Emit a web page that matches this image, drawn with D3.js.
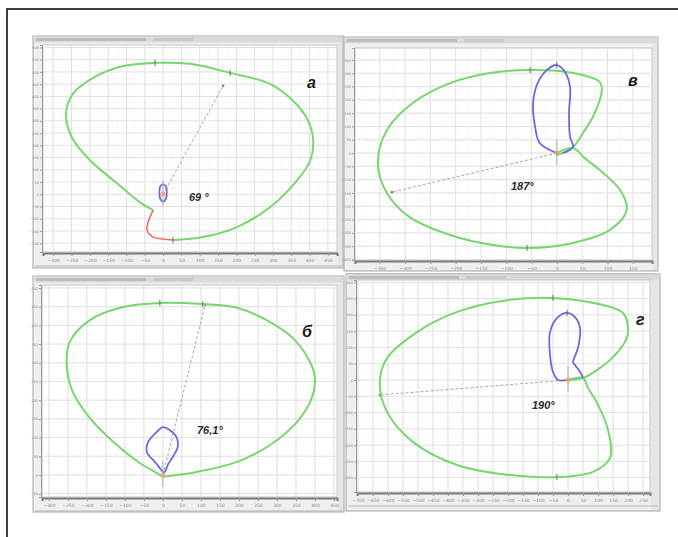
<!DOCTYPE html>
<html>
<head>
<meta charset="utf-8">
<script src="https://cdn.jsdelivr.net/npm/d3@7"></script>
<style>
body { margin: 0; background: #fff; }
svg { display: block; }
.tick text { fill: #8c8c8c; font-family: "DejaVu Sans", sans-serif; }
</style>
</head>
<body>
<svg id="chart"></svg>
<script>
// годографы, мм (шаг сетки 50)
var greenA = [[27,-187],[109,-175],[202,-134],[292,-53],[366,57],[402,138],[410,220],[396,301],[355,382],[292,451],[183,496],[74,533],[-22,537],[-109,524],[-191,476],[-246,411],[-265,329],[-249,232],[-199,138],[-126,45],[-63,-33],[-27,-65]]
var redA = [[-27,-65],[-41,-114],[-44,-146],[-27,-175],[0,-183],[27,-187]]
var blueA = [[0,42],[8,32],[10,8],[8,-18],[0,-30],[-8,-18],[-10,8],[-8,32],[0,42]]
var vecA = [164, 443]

var greenV = [[0,-8],[32,23],[55,86],[71,135],[89,237],[85,267],[71,282],[20,305],[-53,312],[-132,301],[-211,263],[-285,188],[-336,86],[-354,-38],[-336,-150],[-291,-241],[-211,-308],[-126,-346],[-59,-357],[32,-338],[105,-289],[138,-214],[125,-139],[85,-64],[55,-19],[32,19],[0,0]]
var blueV = [[0,0],[-34,38],[-43,98],[-47,188],[-38,263],[-20,312],[0,331],[16,305],[26,248],[24,150],[26,60],[32,23],[12,0]]
var vecV = [-326, -147]

var greenB = [[0,-5],[89,8],[195,35],[282,80],[353,142],[392,206],[400,259],[387,302],[342,366],[282,409],[195,447],[105,457],[-8,460],[-105,449],[-192,414],[-245,356],[-253,294],[-237,222],[-192,152],[-121,80],[-61,32],[-16,5],[0,-5]]
var blueB = [[0,8],[-21,35],[-42,61],[-39,88],[-16,115],[0,128],[18,120],[37,99],[39,75],[26,48],[13,27],[5,8],[0,8]]
var vecB = [111, 455]

var greenG = [[0,0],[50,6],[107,37],[157,77],[193,123],[200,160],[183,206],[117,230],[-50,252],[-203,245],[-370,209],[-503,147],[-603,67],[-627,-6],[-603,-98],[-517,-190],[-370,-261],[-203,-291],[-37,-298],[83,-282],[140,-239],[133,-153],[97,-71],[67,-25],[50,6],[0,0]]
var blueG = [[0,0],[-33,0],[-50,25],[-60,77],[-60,147],[-37,190],[-3,206],[23,193],[40,160],[33,98],[17,55],[23,46],[40,25],[50,6]]
var vecG = [-627, -46]

var angleLabels = ["69 °", "187°", "76,1°", "190°"]
var panelLetters = ["а", "в", "б", "г"]

var width = 678, height = 537

var svg = d3.select("#chart")
    .attr("width", width)
    .attr("height", height)

svg.append("rect")
    .attr("x", 7).attr("y", 9)
    .attr("width", 700).attr("height", 560)
    .attr("fill", "none")
    .attr("stroke", "#111")
    .attr("stroke-width", 1.6)

var panels = [
    { win: [33, 36, 310, 232], plot: [43, 45, 337, 252], xd: [-328, 475], yd: [-236, 610],
      green: greenA, red: redA, blue: blueA, vec: vecA, vecColor: "#c99a9a", label: angleLabels[0], letter: panelLetters[0],
      labelPos: [189, 201], letterPos: [307, 88], marks: [[-22, 537], [183, 496], [27, -187]] },
    { win: [344, 37, 314, 234], plot: [355, 48, 652, 260], xd: [-399, 188], yd: [-402, 395],
      green: greenV, red: null, blue: blueV, vec: vecV, vecColor: "#c99a9a", label: angleLabels[1], letter: panelLetters[1],
      labelPos: [511, 190], letterPos: [628, 86], marks: [[-53, 312], [-59, -357], [0, 331]] },
    { win: [33, 276, 311, 236], plot: [42, 285, 337, 497], xd: [-318, 458], yd: [-59, 508],
      green: greenB, red: null, blue: blueB, vec: vecB, vecColor: "#a8a8a8", label: angleLabels[2], letter: panelLetters[2],
      labelPos: [197, 434], letterPos: [302, 337], marks: [[-8, 460], [105, 457]] },
    { win: [346, 274, 314, 237], plot: [357, 280, 650, 492], xd: [-703, 273], yd: [-344, 307],
      green: greenG, red: null, blue: blueG, vec: vecG, vecColor: "#c99a9a", label: angleLabels[3], letter: panelLetters[3],
      labelPos: [532, 409], letterPos: [636, 325], marks: [[-50, 252], [-37, -298], [-3, 206]] }
]

panels.forEach(drawPanel)

function drawPanel(p) {
    var g = svg.append("g")
    var w = p.win, pl = p.plot

    // окно
    g.append("rect")
        .attr("x", w[0]).attr("y", w[1]).attr("width", w[2]).attr("height", w[3])
        .attr("fill", "#efefef").attr("stroke", "#a5a5a5").attr("stroke-width", 1)
    g.append("rect")
        .attr("x", w[0] + 0.5).attr("y", w[1] + 0.5).attr("width", w[2] - 1).attr("height", 6)
        .attr("fill", "#dadada")
    g.append("rect")
        .attr("x", w[0] + 3).attr("y", w[1] + 2).attr("width", 110).attr("height", 3)
        .attr("fill", "#bdbdbd")
    g.append("rect")
        .attr("x", w[0] + 120).attr("y", w[1] + 2).attr("width", 40).attr("height", 3)
        .attr("fill", "#c8c8c8")
    g.append("rect")
        .attr("x", pl[2] + 1).attr("y", w[1] + 7).attr("width", w[0] + w[2] - pl[2] - 2).attr("height", w[3] - 8)
        .attr("fill", "#e6e6e6")

    var x = d3.scaleLinear().domain(p.xd).range([pl[0], pl[2]])
    var y = d3.scaleLinear().domain(p.yd).range([pl[3], pl[1]])

    g.append("rect")
        .attr("x", pl[0]).attr("y", pl[1]).attr("width", pl[2] - pl[0]).attr("height", pl[3] - pl[1])
        .attr("fill", "#fff").attr("stroke", "#c4c4c4")

    var xt = d3.range(Math.ceil(p.xd[0] / 50) * 50, p.xd[1], 50)
    var yt = d3.range(Math.ceil(p.yd[0] / 50) * 50, p.yd[1], 50)
    var xm = d3.range(Math.ceil(p.xd[0] / 25) * 25, p.xd[1], 50)
    var ym = d3.range(Math.ceil(p.yd[0] / 25) * 25, p.yd[1], 50)

    g.append("g").selectAll("line").data(xm).enter().append("line")
        .attr("x1", function(d) { return x(d) }).attr("x2", function(d) { return x(d) })
        .attr("y1", pl[1]).attr("y2", pl[3])
        .attr("stroke", "#ececec").attr("stroke-dasharray", "1,2")
    g.append("g").selectAll("line").data(ym).enter().append("line")
        .attr("y1", function(d) { return y(d) }).attr("y2", function(d) { return y(d) })
        .attr("x1", pl[0]).attr("x2", pl[2])
        .attr("stroke", "#ececec").attr("stroke-dasharray", "1,2")
    g.append("g").selectAll("line").data(xt).enter().append("line")
        .attr("x1", function(d) { return x(d) }).attr("x2", function(d) { return x(d) })
        .attr("y1", pl[1]).attr("y2", pl[3])
        .attr("stroke", "#e0e0e0")
    g.append("g").selectAll("line").data(yt).enter().append("line")
        .attr("y1", function(d) { return y(d) }).attr("y2", function(d) { return y(d) })
        .attr("x1", pl[0]).attr("x2", pl[2])
        .attr("stroke", "#e0e0e0")

    // оси
    var ax = g.append("g")
        .attr("transform", "translate(0," + (pl[3] + 1) + ")")
        .call(d3.axisBottom(x).tickValues(xt).tickSize(3).tickPadding(3))
    ax.select(".domain").attr("stroke", "#7a7a7a").attr("stroke-width", 2)
    ax.selectAll(".tick line").attr("stroke", "#9a9a9a")
    ax.selectAll("text").attr("font-size", 4.5)
    g.append("line")
        .attr("x1", w[0] + 2).attr("x2", w[0] + w[2] - 2)
        .attr("y1", pl[3] + 14).attr("y2", pl[3] + 14)
        .attr("stroke", "#b5b5b5")

    var ay = g.append("g")
        .attr("transform", "translate(" + (pl[0] - 1) + ",0)")
        .call(d3.axisLeft(y).tickValues(yt).tickSize(2).tickPadding(1))
    ay.select(".domain").attr("stroke", "#9a9a9a")
    ay.selectAll(".tick line").attr("stroke", "#9a9a9a")
    ay.selectAll("text").attr("font-size", 3.5)

    var line = d3.line()
        .x(function(d) { return x(d[0]) })
        .y(function(d) { return y(d[1]) })
        .curve(d3.curveCatmullRom)

    // вектор
    g.append("line")
        .attr("x1", x(0)).attr("y1", y(0))
        .attr("x2", x(p.vec[0])).attr("y2", y(p.vec[1]))
        .attr("stroke", p.vecColor).attr("stroke-width", 1)
        .attr("stroke-dasharray", "3,2")
    g.append("circle")
        .attr("cx", x(p.vec[0])).attr("cy", y(p.vec[1])).attr("r", 1.3)
        .attr("fill", "#9a7a7a")

    g.append("path")
        .datum(p.green)
        .attr("d", line)
        .attr("fill", "none")
        .attr("stroke", "#78d66e")
        .attr("stroke-width", 2)
    if (p.red) {
        g.append("path")
            .datum(p.red)
            .attr("d", line)
            .attr("fill", "none")
            .attr("stroke", "#ec6b6b")
            .attr("stroke-width", 1.6)
    }
    g.append("path")
        .datum(p.blue)
        .attr("d", line)
        .attr("fill", "none")
        .attr("stroke", "#6c68e0")
        .attr("stroke-width", 1.8)

    g.selectAll(".mark").data(p.marks).enter().append("line")
        .attr("x1", function(d) { return x(d[0]) }).attr("x2", function(d) { return x(d[0]) })
        .attr("y1", function(d) { return y(d[1]) - 3 }).attr("y2", function(d) { return y(d[1]) + 3 })
        .attr("stroke", "#6a6a6a").attr("stroke-width", 1)

    // начало координат
    g.append("line")
        .attr("x1", x(0)).attr("x2", x(0))
        .attr("y1", y(0) - 14).attr("y2", y(0) + 12)
        .attr("stroke", "#9bb8b8").attr("stroke-width", 1)
    g.append("circle")
        .attr("cx", x(0)).attr("cy", y(0)).attr("r", 2.5)
        .attr("fill", "#f0a070").attr("opacity", 0.8)

    g.append("text")
        .attr("x", p.labelPos[0]).attr("y", p.labelPos[1])
        .attr("font-family", "Liberation Sans, Arial, sans-serif")
        .attr("font-size", 11).attr("font-style", "italic").attr("font-weight", "bold")
        .attr("fill", "#2a2a2a")
        .text(p.label)
    g.append("text")
        .attr("x", p.letterPos[0]).attr("y", p.letterPos[1])
        .attr("font-family", "Liberation Sans, Arial, sans-serif")
        .attr("font-size", 16).attr("font-style", "italic").attr("font-weight", "bold")
        .attr("fill", "#1a1a1a")
        .text(p.letter)
}
</script>
</body>
</html>
